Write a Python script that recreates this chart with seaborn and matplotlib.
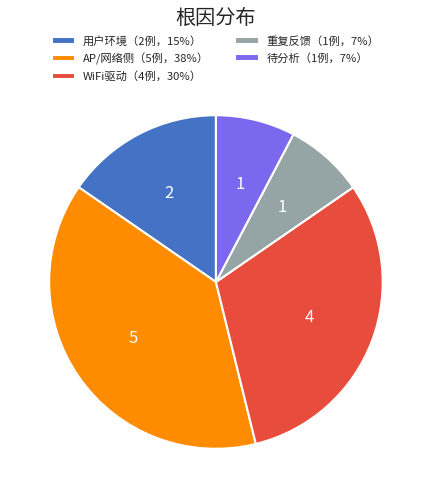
import matplotlib
matplotlib.use('Agg')
import matplotlib.pyplot as plt
import seaborn as sns

sns.set_theme(style='white')
plt.rcParams['font.family'] = ['Noto Sans CJK SC', 'DejaVu Sans']

categories = ['用户环境', 'AP/网络侧', 'WiFi驱动', '重复反馈', '待分析']
counts = [2, 5, 4, 1, 1]
pct_labels = ['15%', '38%', '30%', '7%', '7%']
colors = ['#4472C4', '#FF8C00', '#E74C3C', '#95A5A6', '#7B68EE']

fig = plt.figure(figsize=(4.31, 5.0), dpi=100)
ax = fig.add_axes([0.116, 0.104, 0.770, 0.664])

wedges, texts, autotexts = ax.pie(
    counts, colors=colors, startangle=90, counterclock=True,
    autopct=lambda p: '%d' % round(p * sum(counts) / 100.0),
    pctdistance=0.6, wedgeprops=dict(edgecolor='white', linewidth=1.5),
    textprops=dict(color='white', fontsize=12))
ax.set_aspect('equal')
ax.set_xlim(-0.995, 0.995)
ax.set_ylim(-0.995, 0.995)

labels = ['%s（%d例，%s）' % (c, n, p) for c, n, p in zip(categories, counts, pct_labels)]
fig.legend(wedges, labels, loc='upper center', bbox_to_anchor=(0.5, 0.949), ncol=2,
           frameon=False, fontsize=8.1, handlelength=2.1, handleheight=0.5,
           handletextpad=0.7, columnspacing=2.3, labelspacing=0.55)
fig.suptitle('根因分布', fontsize=14.5, y=0.985)

fig.savefig('out.png', dpi=100)
